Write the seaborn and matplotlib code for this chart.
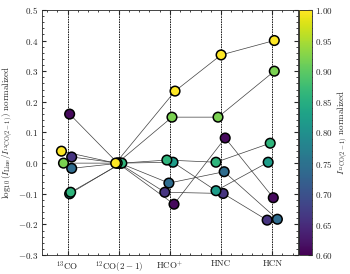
import numpy as np
import pandas as pd
import seaborn as sns
import matplotlib.pyplot as plt
import matplotlib as mpl

# line names (x categories) and per-source values
lines = ['$^{13}$CO', '$^{12}$CO$(2-1)$', 'HCO$^{+}$', 'HNC', 'HCN']
sources = ['A', 'B', 'C', 'D', 'E', 'F', 'G']
intensity = [1.00, 0.92, 0.86, 0.82, 0.74, 0.66, 0.61]

ratio_A = [0.039, 0.0, 0.235, 0.353, 0.400]
ratio_B = [0.000, 0.0, 0.150, 0.150, 0.300]
ratio_C = [-0.095, 0.0, 0.010, 0.003, 0.065]
ratio_D = [-0.100, 0.0, 0.003, -0.090, 0.003]
ratio_E = [-0.017, 0.0, -0.065, -0.028, -0.183]
ratio_F = [0.020, 0.0, -0.095, -0.099, -0.186]
ratio_G = [0.160, 0.0, -0.134, 0.082, -0.113]

# small horizontal jitter so points don't sit on top of each other
jit_A = [-0.12, -0.06, 0.10, 0.00, 0.04]
jit_B = [-0.08, -0.03, 0.04, -0.06, 0.04]
jit_C = [0.06, 0.06, -0.06, -0.10, -0.04]
jit_D = [0.04, 0.04, 0.06, -0.10, -0.08]
jit_E = [0.08, 0.02, -0.02, 0.06, 0.10]
jit_F = [0.08, 0.00, -0.10, 0.04, -0.10]
jit_G = [0.04, -0.02, 0.08, 0.08, 0.02]

ratios = [ratio_A, ratio_B, ratio_C, ratio_D, ratio_E, ratio_F, ratio_G]
jits = [jit_A, jit_B, jit_C, jit_D, jit_E, jit_F, jit_G]

rows = []
for s, I, r, j in zip(sources, intensity, ratios, jits):
    for k in range(len(lines)):
        rows.append({'source': s, 'I': I, 'x': k + j[k], 'y': r[k]})
df = pd.DataFrame(rows)

sns.set_style('ticks')
plt.rcParams['font.family'] = 'serif'
plt.rcParams['font.serif'] = ['cmr10', 'DejaVu Serif']
plt.rcParams['mathtext.fontset'] = 'cm'
plt.rcParams['axes.formatter.use_mathtext'] = True
plt.rcParams['font.size'] = 7
plt.rcParams['xtick.direction'] = 'in'
plt.rcParams['ytick.direction'] = 'in'
plt.rcParams['xtick.top'] = True
plt.rcParams['ytick.right'] = True
plt.rcParams['xtick.major.size'] = 3
plt.rcParams['ytick.major.size'] = 3
plt.rcParams['xtick.minor.size'] = 1.5
plt.rcParams['ytick.minor.size'] = 1.5
plt.rcParams['axes.linewidth'] = 0.6

fig = plt.figure(figsize=(3.5, 2.74), dpi=100)
ax = fig.add_axes([0.12, 0.069, 0.731, 0.895])
cax = fig.add_axes([0.854, 0.069, 0.037, 0.895])

for k in range(len(lines)):
    ax.axvline(k, color='k', lw=0.6, ls=(0, (2, 1)), zorder=0)

sns.lineplot(data=df, x='x', y='y', units='source', estimator=None, sort=False,
             color='0.25', lw=0.5, ax=ax, zorder=1)

norm = mpl.colors.Normalize(0.6, 1.0)
sns.scatterplot(data=df.sort_values('I'), x='x', y='y', hue='I', palette='viridis',
                hue_norm=norm, s=48, edgecolor='k', linewidth=1.1, legend=False,
                ax=ax, zorder=3)

ax.set_xlim(-0.5, 4.5)
ax.set_ylim(-0.3, 0.5)
ax.set_xticks(range(len(lines)))
ax.set_xticklabels(lines)
ax.xaxis.set_minor_locator(mpl.ticker.MultipleLocator(0.2))
ax.yaxis.set_major_locator(mpl.ticker.MultipleLocator(0.1))
ax.yaxis.set_minor_locator(mpl.ticker.MultipleLocator(0.02))
ax.set_xlabel('')
ax.set_ylabel(r'$\log_{10}(I_{\rm Line}/I_{^{12}{\rm CO}(2-1)})$ normalized',
              fontsize=6.5, labelpad=1.5)
ax.tick_params(labelsize=6.5, pad=3)

sm = mpl.cm.ScalarMappable(norm=norm, cmap='viridis')
cb = fig.colorbar(sm, cax=cax)
cb.set_ticks(np.arange(0.6, 1.01, 0.05))
cb.ax.yaxis.set_minor_locator(mpl.ticker.MultipleLocator(0.01))
cb.ax.tick_params(labelsize=6.5, direction='in', which='both', pad=2.5)
cb.outline.set_linewidth(0.6)
cb.set_label(r'$I_{^{12}{\rm CO}(2-1)}$ normalized', fontsize=6.5, labelpad=2)

fig.savefig('out.png', dpi=100)
